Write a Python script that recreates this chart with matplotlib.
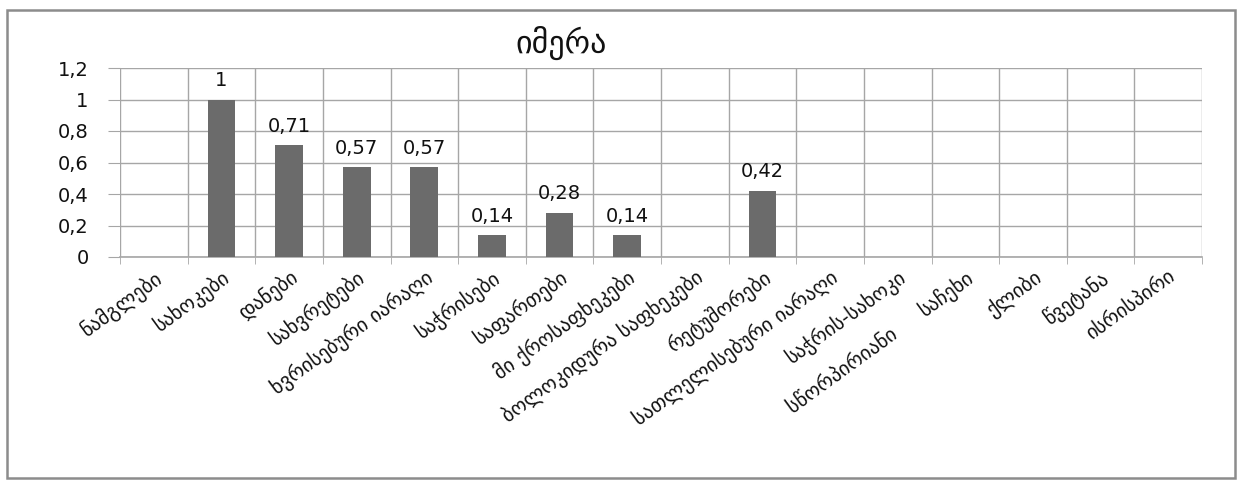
#!/usr/bin/env python3
"""Imera: relative frequency of tool types (bar chart, Excel style)."""

import matplotlib
matplotlib.use("Agg")
import matplotlib.pyplot as plt
import numpy as np
from matplotlib.patches import Rectangle

# ---------------------------------------------------------------------------
# Data
# ---------------------------------------------------------------------------

TITLE = "იმერა"

CATEGORIES = [
    "ნამგლები",
    "სახოკები",
    "დანები",
    "სახვრეტები",
    "ხვრისებური იარაღი",
    "საჭრისები",
    "საფართები",
    "მი ქროსაფხეკები",
    "ბოლოკიდურა საფხეკები",
    "რეტუშორები",
    "სათლელისებური იარაღი",
    "საჭრის-სახოკი\nსწორპირიანი\u2003\u2003",
    "საჩეხი",
    "ქლიბი",
    "წვეტანა",
    "ისრისპირი",
]

VALUES = [0, 1, 0.71, 0.57, 0.57, 0.14, 0.28, 0.14, 0, 0.42, 0, 0, 0, 0, 0, 0]

Y_TICKS = [0, 0.2, 0.4, 0.6, 0.8, 1.0, 1.2]

# ---------------------------------------------------------------------------
# Plot
# ---------------------------------------------------------------------------

plt.rcParams["font.family"] = ["DejaVu Sans"]

BAR_COLOR = "#6b6b6b"
GRID_COLOR = "#a6a6a6"
TEXT_COLOR = "#111111"


def fmt_comma(v):
    s = f"{v:g}"
    return s.replace(".", ",")


fig = plt.figure(figsize=(12.4, 4.8), dpi=100)
ax = fig.add_axes([120 / 1240, 1 - 257 / 480, (1202 - 120) / 1240, (257 - 68) / 480])

x = np.arange(len(CATEGORIES))
ax.bar(x, VALUES, width=0.41, color=BAR_COLOR, zorder=3)

for xi, v in zip(x, VALUES):
    if v > 0:
        ax.text(xi, v + 0.06, fmt_comma(v), ha="center", va="bottom",
                fontsize=14, color=TEXT_COLOR, zorder=4)

ax.set_xlim(-0.5, len(CATEGORIES) - 0.5)
ax.set_ylim(0, 1.2)

ax.set_yticks(Y_TICKS)
ax.set_yticklabels([fmt_comma(t) for t in Y_TICKS], fontsize=14, color=TEXT_COLOR)
ax.yaxis.grid(True, color=GRID_COLOR, linewidth=1.0, zorder=0)
ax.tick_params(axis="y", length=8.5, color=GRID_COLOR, pad=14)

# category boundaries carry the vertical gridlines and tick marks
ax.set_xticks(np.arange(-0.5, len(CATEGORIES)), minor=True)
ax.xaxis.grid(True, which="minor", color=GRID_COLOR, linewidth=1.0, zorder=0)
ax.tick_params(axis="x", which="minor", length=5, color=GRID_COLOR)
ax.set_xticks(x)
ax.set_xticklabels(CATEGORIES, rotation=36, ha="right", rotation_mode="anchor",
                   fontsize=14.5, color=TEXT_COLOR, linespacing=2.4,
                   multialignment="right")
ax.tick_params(axis="x", which="major", length=0, pad=7)

for side in ["top", "right", "left"]:
    ax.spines[side].set_visible(False)
ax.spines["bottom"].set_color(GRID_COLOR)
ax.spines["bottom"].set_linewidth(1.2)

fig.text(561 / 1240, 1 - 43 / 480, TITLE, ha="center", va="center", fontsize=23,
         color=TEXT_COLOR)

# chart area border
fig.patches.append(Rectangle((7 / 1240, 2 / 480), 1228 / 1240, 468 / 480,
                             transform=fig.transFigure, fill=False,
                             edgecolor="#8c8c8c", linewidth=1.8))

fig.savefig("out.png", dpi=100, facecolor="white")
